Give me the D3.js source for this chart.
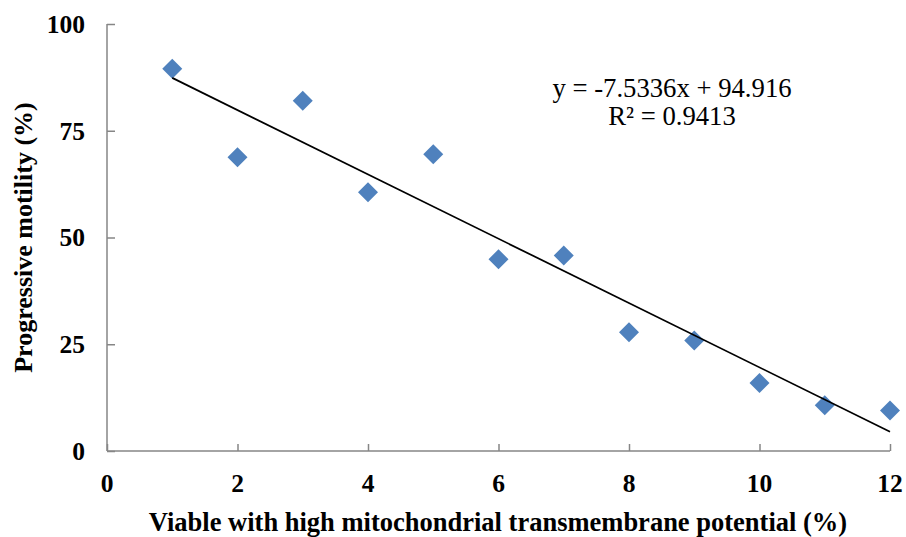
<!DOCTYPE html>
<html>
<head>
<meta charset="utf-8">
<script src="https://cdn.jsdelivr.net/npm/d3@7"></script>
<style>
  body { margin: 0; background: #fff; }
  svg { display: block; }
  text { font-family: "Liberation Serif", "Times New Roman", serif; }
</style>
</head>
<body>
<div id="chart"></div>
<script>
const xValues = [1, 2, 3, 4, 5, 6, 7, 8, 9, 10, 11, 12];
const yValues = [89.5, 68.8, 82.0, 60.6, 69.5, 44.9, 45.8, 27.8, 25.9, 15.9, 10.7, 9.5];
const xTicks = [0, 2, 4, 6, 8, 10, 12];
const yTicks = [0, 25, 50, 75, 100];
const slope = -7.5336, intercept = 94.916;
const equationLines = ['y = -7.5336x + 94.916', 'R² = 0.9413'];

(function() {
  const width = 906, height = 537;
  const margin = {top: 24, right: 16, bottom: 86, left: 107};

  const svg = d3.select('#chart').append('svg')
    .attr('width', width)
    .attr('height', height);

  const x = d3.scaleLinear().domain([0, 12]).range([margin.left, 890]);
  const y = d3.scaleLinear().domain([0, 100]).range([451, margin.top]);

  const axisColor = '#868686';

  // y axis, ticks point into the plot
  const yAxis = svg.append('g')
    .attr('transform', `translate(${x(0)},0)`)
    .call(d3.axisRight(y).tickValues(yTicks).tickSize(8).tickFormat(''));
  yAxis.select('.domain').attr('stroke', axisColor).attr('stroke-width', 1.5).attr('d', `M0,${y(100)}V${y(0)}`);
  yAxis.selectAll('.tick line').attr('stroke', axisColor).attr('stroke-width', 1.5);

  const xAxis = svg.append('g')
    .attr('transform', `translate(0,${y(0)})`)
    .call(d3.axisTop(x).tickValues(xTicks).tickSize(7).tickFormat(''));
  xAxis.select('.domain').attr('stroke', axisColor).attr('stroke-width', 1.5).attr('d', `M${x(0)},0H${x(12)}`);
  xAxis.selectAll('.tick line').attr('stroke', axisColor).attr('stroke-width', 1.5);

  // tick labels
  svg.append('g').selectAll('text')
    .data(yTicks)
    .enter().append('text')
      .attr('x', 85)
      .attr('y', d => y(d))
      .attr('dy', '0.35em')
      .attr('text-anchor', 'end')
      .attr('font-size', 25.5)
      .attr('font-weight', 'bold')
      .text(d => d);

  svg.append('g').selectAll('text')
    .data(xTicks)
    .enter().append('text')
      .attr('x', d => x(d))
      .attr('y', 492)
      .attr('text-anchor', 'middle')
      .attr('font-size', 25.5)
      .attr('font-weight', 'bold')
      .text(d => d);

  // axis titles
  svg.append('text')
    .attr('x', 498)
    .attr('y', 531)
    .attr('text-anchor', 'middle')
    .attr('font-size', 26.5)
    .attr('font-weight', 'bold')
    .text('Viable with high mitochondrial transmembrane potential (%)');

  svg.append('text')
    .attr('transform', `translate(32,${(y(0) + y(100)) / 2}) rotate(-90)`)
    .attr('text-anchor', 'middle')
    .attr('font-size', 26)
    .attr('font-weight', 'bold')
    .text('Progressive motility (%)');

  // points
  const diamond = 'M0,-10L10,0L0,10L-10,0Z';
  svg.append('g').selectAll('path')
    .data(xValues.map((d, i) => [d, yValues[i]]))
    .enter().append('path')
      .attr('transform', d => `translate(${x(d[0])},${y(d[1])})`)
      .attr('d', diamond)
      .attr('fill', '#4f81bd');

  // linear trendline
  const fit = [1, 12].map(v => [v, slope * v + intercept]);
  svg.append('path')
    .datum(fit)
    .attr('d', d3.line().x(d => x(d[0])).y(d => y(d[1])))
    .attr('fill', 'none')
    .attr('stroke', '#000')
    .attr('stroke-width', 1.75);

  svg.append('g').selectAll('text')
    .data(equationLines)
    .enter().append('text')
      .attr('x', 672)
      .attr('y', (d, i) => 97 + i * 28)
      .attr('text-anchor', 'middle')
      .attr('font-size', 26.7)
      .text(d => d);
})();
</script>
</body>
</html>
